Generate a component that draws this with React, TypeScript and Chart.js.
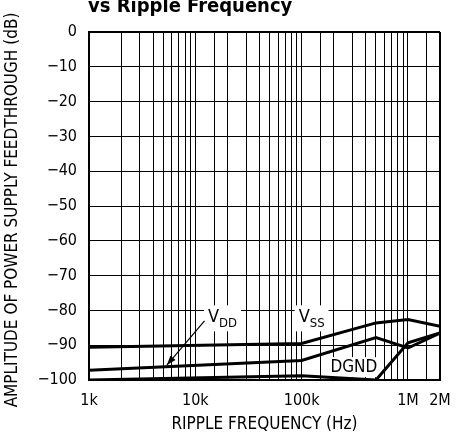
import React, { useEffect, useRef } from 'react';
import { Chart, registerables } from 'chart.js';

Chart.register(...registerables);

const FONT = "'Liberation Sans Narrow', 'DejaVu Sans Condensed', 'Liberation Sans', sans-serif";

const TITLE = 'vs Ripple Frequency';
const Y_TITLE = 'AMPLITUDE OF POWER SUPPLY FEEDTHROUGH (dB)';
const X_TITLE = 'RIPPLE FREQUENCY (Hz)';

const X_TICK_VALUES = [1e3, 1e4, 1e5, 1e6, 2e6];
const X_TICK_LABELS = ['1k', '10k', '100k', '1M', '2M'];

const VSS_FREQ = [1e3, 1e5, 5e5, 1e6, 2e6];
const VSS_DB = [-90.6, -89.5, -83.6, -82.6, -84.6];

const VDD_FREQ = [1e3, 1e5, 5e5, 1e6, 2e6];
const VDD_DB = [-97.2, -94.4, -87.8, -90.8, -86.5];

const DGND_FREQ = [1e3, 1e5, 5e5, 1e6, 2e6];
const DGND_DB = [-100, -98.8, -100, -89.3, -86.5];

function pts(xs: number[], ys: number[]) {
  return xs.map((x, i) => ({ x, y: ys[i] }));
}

const textPlugin = {
  id: 'texts',
  beforeDatasetsDraw(chart: any) {
    const ctx = chart.ctx;
    const xs = chart.scales.x;
    const ys = chart.scales.y;
    const px = (v: number) => xs.getPixelForValue(v);
    const py = (v: number) => ys.getPixelForValue(v);
    ctx.save();
    ctx.fillStyle = '#000';
    ctx.textBaseline = 'middle';

    const drawSub = (main: string, sub: string, cx: number, cy: number) => {
      ctx.font = `18px ${FONT}`;
      const w1 = ctx.measureText(main).width;
      ctx.font = `13px ${FONT}`;
      const w2 = ctx.measureText(sub).width;
      const w = w1 + w2;
      ctx.fillStyle = '#fff';
      ctx.fillRect(cx - w / 2 - 4, cy - 12, w + 8, 26);
      ctx.fillStyle = '#000';
      ctx.textAlign = 'left';
      ctx.font = `18px ${FONT}`;
      ctx.fillText(main, cx - w / 2, cy);
      ctx.font = `13px ${FONT}`;
      ctx.fillText(sub, cx - w / 2 + w1, cy + 6);
    };

    drawSub('V', 'DD', px(1.8e4), py(-82.0));
    drawSub('V', 'SS', px(1.24e5), py(-82.0));

    // DGND
    ctx.font = `17px ${FONT}`;
    const dw = ctx.measureText('DGND').width;
    const dx = px(3.1e5);
    const dy = py(-96.3);
    ctx.fillStyle = '#fff';
    ctx.fillRect(dx - dw / 2 - 3, dy - 10, dw + 6, 20);
    ctx.fillStyle = '#000';
    ctx.textAlign = 'center';
    ctx.fillText('DGND', dx, dy);

    // arrow
    const x0 = px(1.22e4), y0 = py(-83.0);
    const x1 = px(5.4e3), y1 = py(-95.7);
    ctx.strokeStyle = '#000';
    ctx.lineWidth = 1.2;
    ctx.beginPath();
    ctx.moveTo(x0, y0);
    ctx.lineTo(x1, y1);
    ctx.stroke();
    const ang = Math.atan2(y1 - y0, x1 - x0);
    const L = 10, a = 0.35;
    ctx.beginPath();
    ctx.moveTo(x1, y1);
    ctx.lineTo(x1 - L * Math.cos(ang - a), y1 - L * Math.sin(ang - a));
    ctx.lineTo(x1 - L * Math.cos(ang + a), y1 - L * Math.sin(ang + a));
    ctx.closePath();
    ctx.fill();
    ctx.restore();
  },
  afterDraw(chart: any) {
    const ctx = chart.ctx;
    const area = chart.chartArea;
    ctx.save();
    ctx.fillStyle = '#000';
    // title
    ctx.font = `bold 20px ${FONT}`;
    ctx.textAlign = 'left';
    ctx.textBaseline = 'alphabetic';
    ctx.fillText(TITLE, 88, 12);
    // x title
    ctx.font = `17px ${FONT}`;
    ctx.textAlign = 'center';
    ctx.textBaseline = 'middle';
    ctx.fillText(X_TITLE, (area.left + area.right) / 2, 425);
    // y title
    ctx.font = `17px ${FONT}`;
    ctx.translate(13, 210);
    ctx.rotate(-Math.PI / 2);
    ctx.fillText(Y_TITLE, 0, 0);
    ctx.restore();
  },
};

export default function App() {
  const ref = useRef<HTMLCanvasElement | null>(null);
  useEffect(() => {
    if (!ref.current) return;
    const lineDs = (data: any[]) => ({
      data,
      borderColor: '#000',
      borderWidth: 3,
      pointRadius: 0,
      tension: 0,
      fill: false,
    });
    const chart = new Chart(ref.current, {
      type: 'line',
      data: {
        datasets: [
          { label: 'VSS', ...lineDs(pts(VSS_FREQ, VSS_DB)) },
          { label: 'VDD', ...lineDs(pts(VDD_FREQ, VDD_DB)) },
          { label: 'DGND', ...lineDs(pts(DGND_FREQ, DGND_DB)) },
        ],
      },
      options: {
        animation: false,
        responsive: false,
        devicePixelRatio: 1,
        layout: { padding: { left: 0, top: 32, right: 18, bottom: 0 } },
        plugins: { legend: { display: false }, tooltip: { enabled: false } },
        scales: {
          x: {
            type: 'logarithmic',
            min: 1e3,
            max: 2e6,
            afterFit: (s: any) => {
              s.height = 60;
              s.paddingLeft = 0;
              s.paddingRight = 0;
            },
            grid: {
              color: '#000',
              lineWidth: (c: any) => (c.index === 0 || (c.tick && c.tick.value === 2e6) ? 2 : 1),
              drawTicks: false,
            },
            border: { color: '#000', width: 2 },
            ticks: {
              autoSkip: false,
              maxRotation: 0,
              padding: 11,
              color: '#000',
              font: { family: FONT, size: 16 },
              callback: (v: any) => {
                const i = X_TICK_VALUES.indexOf(Number(v));
                return i >= 0 ? X_TICK_LABELS[i] : '';
              },
            },
          },
          y: {
            min: -100,
            max: 0,
            afterFit: (s: any) => {
              s.width = 89;
              s.paddingTop = 0;
              s.paddingBottom = 0;
            },
            grid: {
              color: '#000',
              lineWidth: (c: any) => (c.tick && c.tick.value === 0 ? 2 : 1),
              drawTicks: false,
            },
            border: { color: '#000', width: 2 },
            ticks: {
              stepSize: 10,
              padding: 12,
              color: '#000',
              font: { family: FONT, size: 16 },
              callback: (v: any) => (Number(v) === 0 ? '0' : '\u2212' + Math.abs(Number(v))),
            },
          },
        },
      },
      plugins: [textPlugin],
    });
    return () => chart.destroy();
  }, []);
  return (
    <div style={{ position: 'absolute', left: 0, top: 0, width: 458, height: 440, background: '#fff' }}>
      <canvas ref={ref} width={458} height={440} />
    </div>
  );
}
